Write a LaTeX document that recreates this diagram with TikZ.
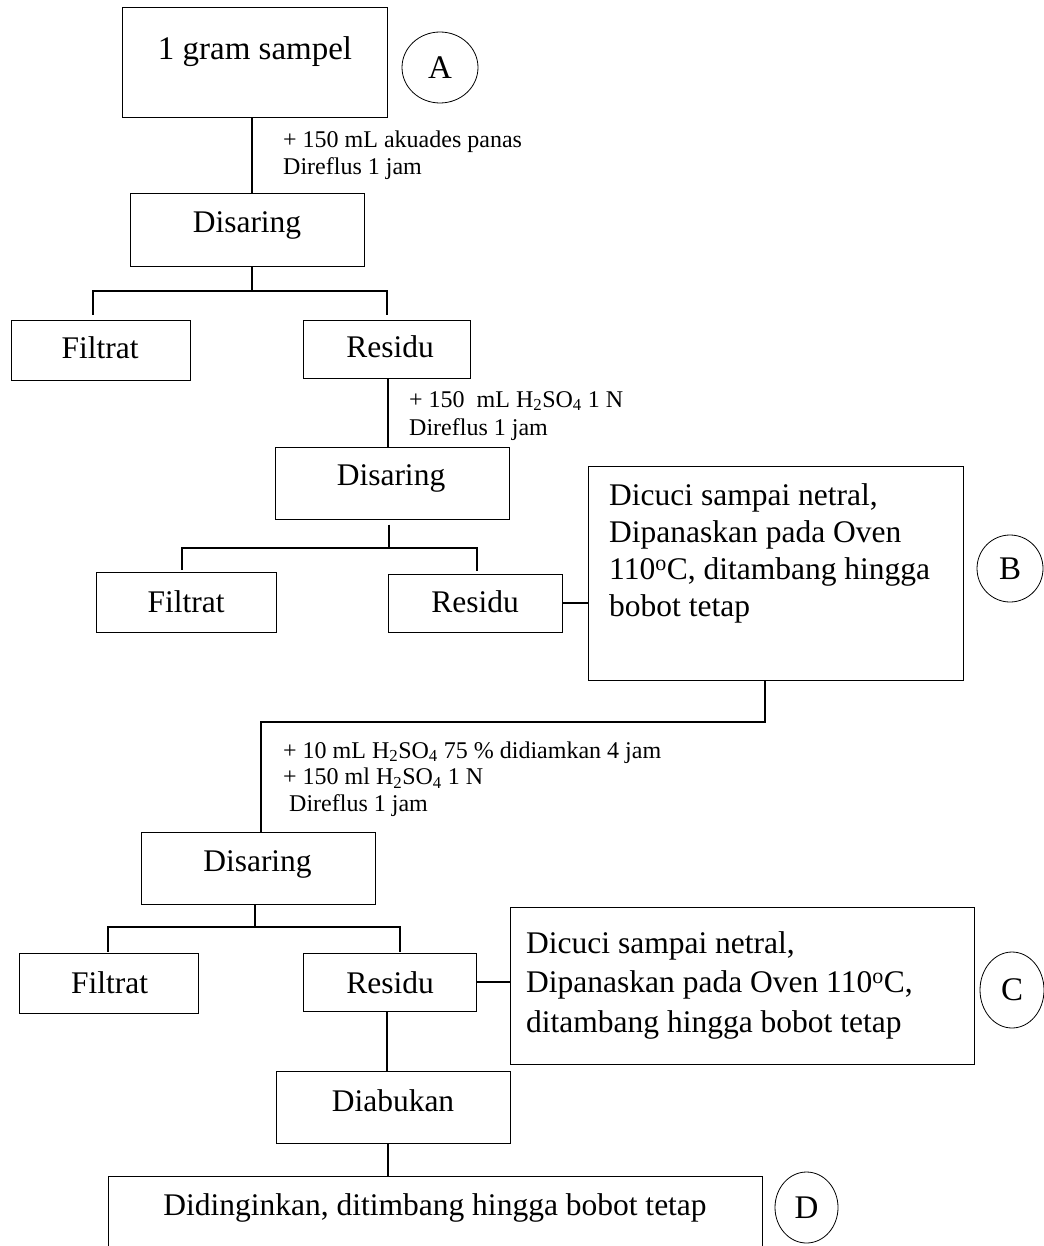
\documentclass[tikz,border=0pt]{standalone}
\usepackage{fontspec}
\setmainfont{Liberation Serif}
\usetikzlibrary{shapes.geometric}

\tikzset{
  box/.style={draw, line width=1pt, rectangle, inner sep=0pt},
  tag/.style={draw, line width=0.8pt, ellipse, inner sep=0pt,
              font=\fontsize{33}{36}\selectfont},
  link/.style={line width=1.6pt, line join=miter},
  big/.style={inner sep=0pt, anchor=base, font=\fontsize{31.5}{37}\selectfont},
  bigblock/.style={inner sep=0pt, anchor=base west},
  note/.style={inner sep=0pt, anchor=base west},
}

\begin{document}
\begin{tikzpicture}[x=1pt, y=-1pt]
\path[use as bounding box, fill=white] (0,0) rectangle (1043,1246);

% --- sample ---
\node[box, minimum width=265, minimum height=110] (s) at (254.5,63) {};
\node[big, font=\fontsize{33}{38}\selectfont] (sT) at (255,60) {1 gram sampel};
\node[tag, minimum width=76, minimum height=71] (cA) at (440,67.5) {A};

\coordinate (v1) at (252,0);
\node[note, font=\fontsize{24}{27}\selectfont] (n1) at (283,148)
  {\begin{tabular}[t]{@{}l@{}}+ 150 mL akuades panas\\Direflus 1 jam\end{tabular}};

% --- first filtration ---
\node[box, minimum width=234, minimum height=73] (d1) at (247,230.5) {};
\node[big] (d1T) at (247,233) {Disaring};
\draw[link] (s.south -| v1) -- (d1.north -| v1);

\node[box, minimum width=179, minimum height=60] (f1) at (100.5,350) {};
\node[big] (f1T) at (100,358) {Filtrat};
\node[box, minimum width=167, minimum height=58] (r1) at (386.5,349) {};
\node[big] (r1T) at (390,357) {Residu};

\coordinate (j1) at (252,291);
\coordinate (j1l) at (93,291);
\coordinate (j1r) at (387,291);
\draw[link] (d1.south -| j1) -- (j1);
\draw[link, shorten <=-0.8pt, shorten >=-0.8pt] (j1l) -- (j1r);
\draw[link, shorten >=5pt] (j1l) -- (f1.north -| j1l);
\draw[link, shorten >=5pt] (j1r) -- (r1.north -| j1r);

% --- acid hydrolysis ---
\coordinate (v2) at (388,0);
\node[note, font=\fontsize{24}{28}\selectfont] (n2) at (409,407)
  {\begin{tabular}[t]{@{}l@{}}+ 150\ \ mL H\textsubscript{2}SO\textsubscript{4} 1 N\\Direflus 1 jam\end{tabular}};
\node[box, minimum width=234, minimum height=72] (d2) at (392,483) {};
\node[big] (d2T) at (391,485) {Disaring};
\draw[link] (r1.south -| v2) -- (d2.north -| v2);

\node[box, minimum width=180, minimum height=60] (f2) at (186,602) {};
\node[big] (f2T) at (186,612) {Filtrat};
\node[box, minimum width=174, minimum height=58] (r2) at (475,603) {};
\node[big] (r2T) at (475,612) {Residu};

\coordinate (j2) at (389,548);
\coordinate (j2l) at (182,548);
\coordinate (j2r) at (477,548);
\draw[link, shorten <=5pt] (d2.south -| j2) -- (j2);
\draw[link, shorten <=-0.8pt, shorten >=-0.8pt] (j2l) -- (j2r);
\draw[link, shorten >=1.5pt] (j2l) -- (f2.north -| j2l);
\draw[link, shorten >=3pt] (j2r) -- (r2.north -| j2r);

\node[box, minimum width=375, minimum height=214] (bb) at (775.5,573) {};
\node[bigblock] (bbT) at (609,505)
  {\fontsize{31.5}{37.3}\selectfont
   \begin{tabular}[t]{@{}l@{}}Dicuci sampai netral,\\Dipanaskan pada Oven\\
   110\textsuperscript{o}C, ditambang hingga\\bobot tetap\end{tabular}};
\node[tag, minimum width=66, minimum height=67] (cB) at (1010,568.5) {B};
\draw[link] (r2.east) -- (bb.west |- r2.east);

% --- second hydrolysis ---
\coordinate (v3) at (765,722);
\coordinate (v4) at (261,722);
\node[note, font=\fontsize{24}{26.5}\selectfont] (n3) at (283,758)
  {\begin{tabular}[t]{@{}l@{}}+ 10 mL H\textsubscript{2}SO\textsubscript{4} 75 \% didiamkan 4 jam\\
   + 150 ml H\textsubscript{2}SO\textsubscript{4} 1 N\\
   \ Direflus 1 jam\end{tabular}};
\node[box, minimum width=234, minimum height=72] (d3) at (258,868) {};
\node[big] (d3T) at (257.5,871) {Disaring};
\draw[link] (bb.south -| v3) -- (v3) -- (v4) -- (d3.north -| v4);

\node[box, minimum width=179, minimum height=60] (f3) at (108.5,983) {};
\node[big] (f3T) at (109.5,993) {Filtrat};
\node[box, minimum width=173, minimum height=58] (r3) at (389.5,982) {};
\node[big] (r3T) at (390,993) {Residu};

\coordinate (j3) at (255,927);
\coordinate (j3l) at (108,927);
\coordinate (j3r) at (400,927);
\draw[link] (d3.south -| j3) -- (j3);
\draw[link, shorten <=-0.8pt, shorten >=-0.8pt] (j3l) -- (j3r);
\draw[link, shorten >=1pt] (j3l) -- (f3.north -| j3l);
\draw[link, shorten >=1pt] (j3r) -- (r3.north -| j3r);

\node[box, minimum width=464, minimum height=157] (cc) at (742,985.5) {};
\node[bigblock] (ccT) at (526,953)
  {\fontsize{31.5}{39.5}\selectfont
   \begin{tabular}[t]{@{}l@{}}Dicuci sampai netral,\\
   Dipanaskan pada Oven 110\textsuperscript{o}C,\\
   ditambang hingga bobot tetap\end{tabular}};
\node[tag, minimum width=64, minimum height=76] (cC) at (1012,990) {C};
\draw[link] (r3.east) -- (cc.west |- r3.east);

% --- ashing ---
\coordinate (v5) at (387,0);
\coordinate (v6) at (388,0);
\node[box, minimum width=234, minimum height=72] (ab) at (393,1107) {};
\node[big] (abT) at (393,1111) {Diabukan};
\draw[link] (r3.south -| v5) -- (ab.north -| v5);

\node[box, minimum width=654, minimum height=90] (dd) at (435,1221) {};
\node[big] (ddT) at (435,1215) {Didinginkan, ditimbang hingga bobot tetap};
\node[tag, minimum width=63, minimum height=71] (cD) at (806.5,1207.5) {D};
\draw[link] (ab.south -| v6) -- (dd.north -| v6);
\end{tikzpicture}
\end{document}
